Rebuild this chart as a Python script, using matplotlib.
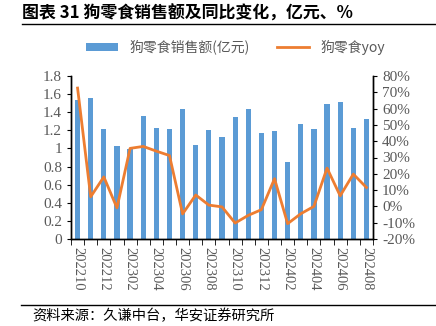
import numpy as np
import matplotlib.pyplot as plt
from matplotlib.ticker import FuncFormatter, MultipleLocator

plt.rcParams['font.family'] = ['Liberation Serif', 'Noto Sans CJK SC']

# 月份、销售额（亿元）、同比（%）
months = ['202210', '202211', '202212',
          '202301', '202302', '202303', '202304', '202305', '202306',
          '202307', '202308', '202309', '202310', '202311', '202312',
          '202401', '202402', '202403', '202404', '202405', '202406',
          '202407', '202408']
sales = [1.53, 1.556, 1.21, 1.03, 0.99, 1.356, 1.226, 1.22, 1.437, 1.04, 1.207, 1.13,
         1.35, 1.44, 1.17, 1.19, 0.853, 1.27, 1.21, 1.496, 1.51, 1.23, 1.32]
yoy = [72.6, 5.9, 18.1, -0.9, 35.6, 36.8, 33.9, 31.2, -4.6, 7.0, 0.8, -0.3,
       -10.2, -5.5, -2.0, 17.0, -10.6, -4.5, 0.0, 23.5, 6.5, 19.8, 11.6]

blue = '#5B9BD5'
orange = '#ED7D31'
gray = '#595959'

fig = plt.figure(figsize=(4.36, 3.26), dpi=100)
ax = fig.add_axes([71 / 436, 1 - 239 / 326, (373 - 71) / 436, (239 - 76) / 326])
ax2 = ax.twinx()

x = np.arange(len(months))
bars = ax.bar(x, sales, width=0.4, color=blue, zorder=2)
line, = ax2.plot(x, yoy, color=orange, lw=2.0, zorder=3)

ax.set_xlim(-0.5, len(months) - 0.5)
ax.set_ylim(0, 1.8)
ax.yaxis.set_major_locator(MultipleLocator(0.2))
ax.yaxis.set_major_formatter(FuncFormatter(lambda v, p: ('%.1f' % v).rstrip('0').rstrip('.')))
ax2.set_ylim(-20, 80)
ax2.yaxis.set_major_locator(MultipleLocator(10))
ax2.yaxis.set_major_formatter(FuncFormatter(lambda v, p: '%d%%' % round(v)))

ax.set_xticks(x[::2])
ax.set_xticklabels(months[::2], rotation=-90, fontsize=10.5, color=gray)
ax.set_xticks(np.arange(-0.5, len(months), 1), minor=True)
ax.tick_params(axis='x', which='major', length=0, pad=6)
ax.tick_params(axis='x', which='minor', length=4, direction='out', color='black')
ax.tick_params(axis='y', labelsize=11, colors=gray, length=3)
ax2.tick_params(axis='y', labelsize=11, colors=gray, length=3)
ax.tick_params(axis='y', color='black')
ax2.tick_params(axis='y', color='black')

for a in (ax, ax2):
    a.spines['top'].set_visible(False)
    for s in ('left', 'right', 'bottom'):
        a.spines[s].set_color('black')
        a.spines[s].set_linewidth(1.0)

ax2.set_zorder(ax.zorder + 1)
ax2.patch.set_visible(False)

fig.legend([bars, line], ['狗零食销售额(亿元)', '狗零食yoy'], loc='center',
           bbox_to_anchor=(0.54, 1 - 47 / 326), ncol=2, frameon=False,
           handlelength=2.3, handleheight=0.5, columnspacing=2.0,
           prop={'family': ['Noto Sans CJK SC', 'Liberation Serif'], 'size': 10},
           labelcolor=gray)

fig.text(22 / 436, 1 - 14 / 326, '图表 31 狗零食销售额及同比变化，亿元、%',
         fontsize=12.2, fontweight='bold', family=['Noto Sans CJK SC'],
         va='center', ha='left')
fig.add_artist(plt.Line2D([22 / 436, 1.0], [1 - 24 / 326] * 2, color='black', lw=1.0))
fig.add_artist(plt.Line2D([21 / 436, 1.0], [1 - 305 / 326] * 2, color='black', lw=1.0))
fig.text(32 / 436, 1 - 316 / 326, '资料来源：久谦中台，华安证券研究所',
         fontsize=10.3, family=['Noto Sans CJK SC'], va='center', ha='left')

fig.savefig('out.png', dpi=100)
